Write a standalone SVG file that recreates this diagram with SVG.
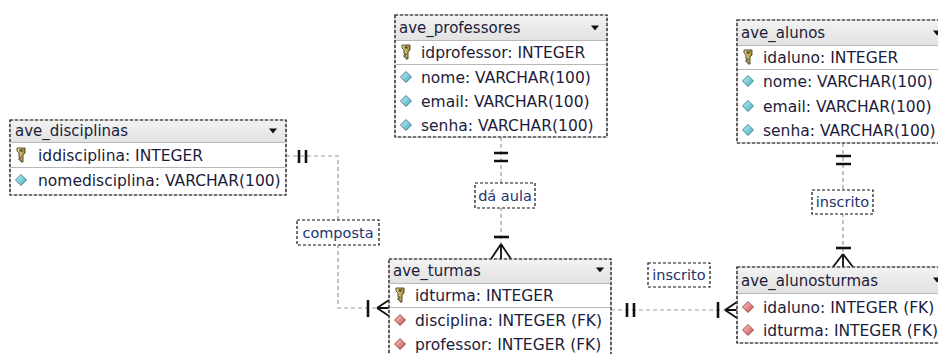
<svg xmlns="http://www.w3.org/2000/svg" width="938" height="354" viewBox="0 0 938 354">
  <defs>
    <style>
      .frame { fill: #ffffff; stroke: #b4b4b4; stroke-width: 1; }
      .dash { fill: none; stroke: #111111; stroke-width: 1.2; stroke-dasharray: 3 2; }
      .head { fill: url(#headGrad); }
      .sep { stroke: #b8b8b8; stroke-width: 1; }
      .title { font-family: "DejaVu Sans", Verdana, sans-serif; font-size: 15px; fill: #1c1c3c; }
      .col { font-family: "DejaVu Sans", Verdana, sans-serif; font-size: 15.5px; fill: #1c1c3c; }
      .tri { fill: #111111; }
      .link { fill: none; stroke: #9a9a9a; stroke-width: 1.2; stroke-dasharray: 4 3; }
      .mark { fill: none; stroke: #111111; stroke-width: 2.6; }
      .foot { fill: none; stroke: #111111; stroke-width: 1.8; }
      .lbox { fill: #ffffff; stroke: #111111; stroke-width: 1.2; stroke-dasharray: 3 2; }
      .ltext { font-family: "DejaVu Sans", Verdana, sans-serif; font-size: 14.5px; fill: #22336e; text-anchor: middle; }
    </style>
    <linearGradient id="headGrad" x1="0" y1="0" x2="0" y2="1">
      <stop offset="0" stop-color="#f2f2f2"/>
      <stop offset="1" stop-color="#e2e2e2"/>
    </linearGradient>
    <linearGradient id="cyanGrad" x1="0" y1="0" x2="1" y2="1">
      <stop offset="0" stop-color="#c8f4f8"/>
      <stop offset="1" stop-color="#3aa8b8"/>
    </linearGradient>
    <linearGradient id="redGrad" x1="0" y1="0" x2="1" y2="1">
      <stop offset="0" stop-color="#f8d0d0"/>
      <stop offset="1" stop-color="#c84848"/>
    </linearGradient>
    <linearGradient id="keyGrad" x1="0" y1="0" x2="1" y2="0">
      <stop offset="0" stop-color="#f0e6a0"/>
      <stop offset="1" stop-color="#9a8230"/>
    </linearGradient>
    <!-- column icons, drawn around (0,0) -->
    <g id="key">
      <path d="M-4,-7 h8 v5 l-2,2 v7 h-2 v-2 h-2 v-2 h2 v-1 h-2 v-4 l-2,-2 z" fill="url(#keyGrad)" stroke="#4a4020" stroke-width="0.9"/>
      <rect x="-1.5" y="-5.5" width="3" height="2" fill="#4a4020"/>
    </g>
    <path id="attr" d="M0,-5.5 L5.5,0 L0,5.5 L-5.5,0 Z" fill="url(#cyanGrad)" stroke="#2a6a78" stroke-width="0.8"/>
    <path id="fk" d="M0,-5.5 L5.5,0 L0,5.5 L-5.5,0 Z" fill="url(#redGrad)" stroke="#8a3030" stroke-width="0.8"/>
    <path id="drop" d="M-4,-2.5 L4,-2.5 L0,2.5 Z" class="tri"/>
  </defs>

  <rect width="938" height="354" fill="#ffffff"/>

  <!-- relationships -->
  <g id="connectors">
    <!-- ave_disciplinas to ave_turmas -->
    <path class="link" d="M286,156 H338 V308 H389"/>
    <path class="mark" d="M299,150 V163 M306,150 V163"/>
    <path class="mark" d="M368,300 V317"/>
    <path class="foot" d="M377,308 L389,300 M377,308 L389,316 M377,308 H389"/>

    <!-- ave_professores to ave_turmas -->
    <path class="link" d="M501,137 V259"/>
    <path class="mark" d="M494,153 H508 M494,161 H508"/>
    <path class="mark" d="M494,237 H509"/>
    <path class="foot" d="M501,244 L491,259 M501,244 L511,259 M501,244 V259"/>

    <!-- ave_alunos to ave_alunosturmas -->
    <path class="link" d="M843,143 V267"/>
    <path class="mark" d="M836,156 H851 M836,164 H851"/>
    <path class="mark" d="M836,248 H851"/>
    <path class="foot" d="M843,254 L833,267 M843,254 L853,267 M843,254 V267"/>

    <!-- ave_turmas to ave_alunosturmas -->
    <path class="link" d="M611,310 H737"/>
    <path class="mark" d="M627,303 V317 M634,303 V317"/>
    <path class="mark" d="M718,302 V318"/>
    <path class="foot" d="M725,310 L737,302 M725,310 L737,318 M725,310 H737"/>

    <!-- relationship names -->
    <rect class="lbox" x="297" y="220" width="82" height="25"/>
    <text class="ltext" x="338" y="238">composta</text>
    <rect class="lbox" x="475" y="183" width="60" height="25"/>
    <text class="ltext" x="505" y="201">dá aula</text>
    <rect class="lbox" x="812" y="190" width="61" height="24"/>
    <text class="ltext" x="842.5" y="207">inscrito</text>
    <rect class="lbox" x="648" y="263" width="62" height="24"/>
    <text class="ltext" x="679" y="280">inscrito</text>
  </g>

  <!-- tables -->
  <g id="ave_disciplinas">
    <rect class="frame" x="10" y="120" width="276" height="75"/>
    <rect class="head" x="11" y="121" width="274" height="21"/>
    <line class="sep" x1="11" y1="142.5" x2="285" y2="142.5"/>
    <line class="sep" x1="11" y1="167.5" x2="285" y2="167.5"/>
    <rect class="dash" x="10" y="120" width="276" height="75"/>
    <text class="title" x="15" y="136">ave_disciplinas</text>
    <use href="#drop" x="273" y="131"/>
    <use href="#key" x="21" y="155"/>
    <text class="col" x="38" y="160.5">iddisciplina: INTEGER</text>
    <use href="#attr" x="21" y="180"/>
    <text class="col" x="38" y="185.5">nomedisciplina: VARCHAR(100)</text>
  </g>

  <g id="ave_professores">
    <rect class="frame" x="395" y="15" width="212" height="122"/>
    <rect class="head" x="396" y="16" width="210" height="24"/>
    <line class="sep" x1="396" y1="40.5" x2="606" y2="40.5"/>
    <line class="sep" x1="396" y1="64.5" x2="606" y2="64.5"/>
    <rect class="dash" x="395" y="15" width="212" height="122"/>
    <text class="title" x="399" y="33">ave_professores</text>
    <use href="#drop" x="595" y="28"/>
    <use href="#key" x="406" y="52"/>
    <text class="col" x="421" y="57.5">idprofessor: INTEGER</text>
    <use href="#attr" x="406" y="77"/>
    <text class="col" x="421" y="82.5">nome: VARCHAR(100)</text>
    <use href="#attr" x="406" y="101"/>
    <text class="col" x="421" y="106.5">email: VARCHAR(100)</text>
    <use href="#attr" x="406" y="125"/>
    <text class="col" x="421" y="130.5">senha: VARCHAR(100)</text>
  </g>

  <g id="ave_alunos">
    <rect class="frame" x="737" y="20" width="210" height="123"/>
    <rect class="head" x="738" y="21" width="208" height="24"/>
    <line class="sep" x1="738" y1="45.5" x2="946" y2="45.5"/>
    <line class="sep" x1="738" y1="69.5" x2="946" y2="69.5"/>
    <rect class="dash" x="737" y="20" width="210" height="123"/>
    <text class="title" x="741" y="38">ave_alunos</text>
    <use href="#drop" x="937" y="33"/>
    <use href="#key" x="748" y="57"/>
    <text class="col" x="763" y="62.5">idaluno: INTEGER</text>
    <use href="#attr" x="748" y="81"/>
    <text class="col" x="763" y="86.5">nome: VARCHAR(100)</text>
    <use href="#attr" x="748" y="106"/>
    <text class="col" x="763" y="111.5">email: VARCHAR(100)</text>
    <use href="#attr" x="748" y="130"/>
    <text class="col" x="763" y="135.5">senha: VARCHAR(100)</text>
  </g>

  <g id="ave_turmas">
    <rect class="frame" x="389" y="259" width="222" height="100"/>
    <rect class="head" x="390" y="260" width="220" height="23"/>
    <line class="sep" x1="390" y1="283.5" x2="610" y2="283.5"/>
    <line class="sep" x1="390" y1="307.5" x2="610" y2="307.5"/>
    <rect class="dash" x="389" y="259" width="222" height="100"/>
    <text class="title" x="393" y="276">ave_turmas</text>
    <use href="#drop" x="600" y="270"/>
    <use href="#key" x="400" y="295"/>
    <text class="col" x="415" y="300.5">idturma: INTEGER</text>
    <use href="#fk" x="400" y="320"/>
    <text class="col" x="415" y="325.5">disciplina: INTEGER (FK)</text>
    <use href="#fk" x="400" y="344"/>
    <text class="col" x="415" y="349.5">professor: INTEGER (FK)</text>
  </g>

  <g id="ave_alunosturmas">
    <rect class="frame" x="737" y="267" width="210" height="76"/>
    <rect class="head" x="738" y="268" width="208" height="25"/>
    <line class="sep" x1="738" y1="293.5" x2="946" y2="293.5"/>
    <rect class="dash" x="737" y="267" width="210" height="76"/>
    <text class="title" x="741" y="286">ave_alunosturmas</text>
    <use href="#drop" x="937" y="280"/>
    <use href="#fk" x="748" y="307"/>
    <text class="col" x="763" y="312.5">idaluno: INTEGER (FK)</text>
    <use href="#fk" x="748" y="330"/>
    <text class="col" x="763" y="335.5">idturma: INTEGER (FK)</text>
  </g>
</svg>
